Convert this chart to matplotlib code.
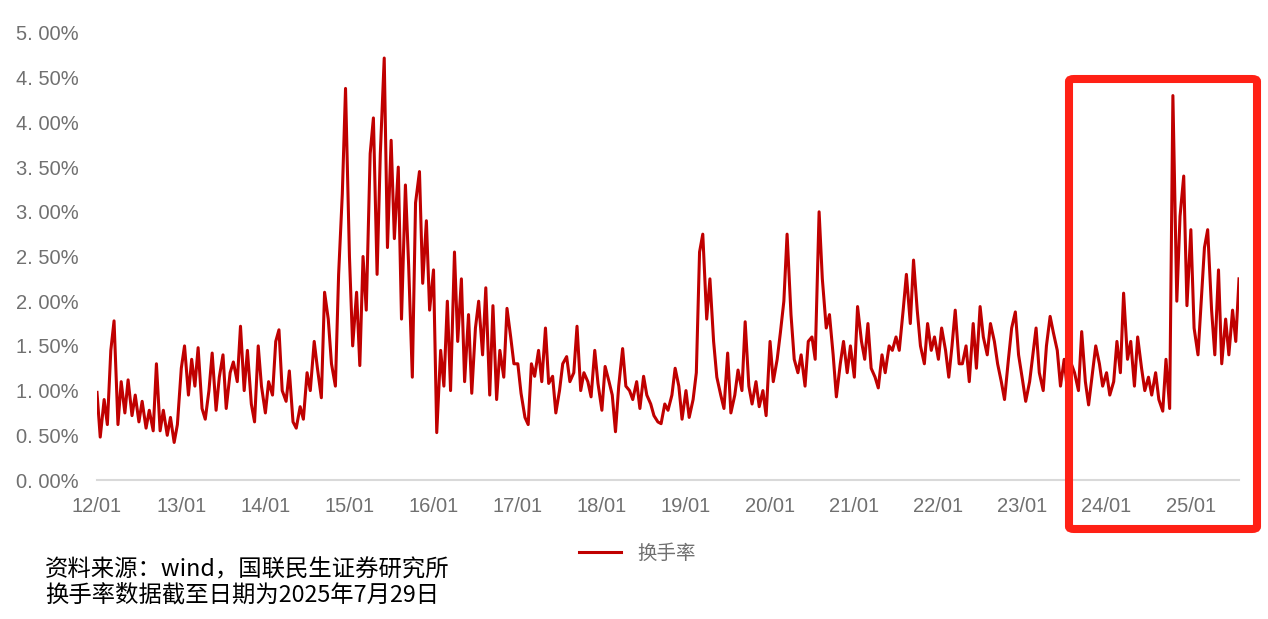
import matplotlib
matplotlib.use("Agg")
import matplotlib.pyplot as plt
import matplotlib.dates as mdates
from matplotlib.patches import FancyBboxPatch
import pandas as pd

plt.rcParams['font.family'] = ['Liberation Sans', 'Noto Sans CJK SC', 'DejaVu Sans']

# turnover rate (%), two points per month (1st / 15th)
y2012 = [0.98, 0.48, 0.90, 0.62, 1.45, 1.78, 0.62, 1.10, 0.75, 1.12, 0.72, 0.95,
         0.65, 0.88, 0.58, 0.78, 0.55, 1.30, 0.55, 0.78, 0.50, 0.70, 0.42, 0.62]
y2013 = [1.25, 1.50, 0.95, 1.35, 1.05, 1.48, 0.80, 0.68, 1.00, 1.42, 0.78, 1.15,
         1.40, 0.80, 1.20, 1.32, 1.10, 1.72, 1.00, 1.45, 0.85, 0.65, 1.50, 1.05]
y2014 = [0.75, 1.10, 0.95, 1.55, 1.68, 1.00, 0.88, 1.22, 0.65, 0.58, 0.82, 0.68,
         1.20, 1.00, 1.55, 1.25, 0.92, 2.10, 1.80, 1.30, 1.05, 2.30, 3.20, 4.38]
y2015 = [2.50, 1.50, 2.10, 1.28, 2.50, 1.90, 3.65, 4.05, 2.30, 3.65, 4.72, 2.60,
         3.80, 2.70, 3.50, 1.80, 3.30, 2.40, 1.15, 3.10, 3.45, 2.20, 2.90, 1.90]
y2016 = [2.35, 0.53, 1.45, 1.05, 2.00, 1.00, 2.55, 1.55, 2.25, 1.10, 1.85, 0.97,
         1.70, 2.00, 1.40, 2.15, 0.95, 1.95, 0.90, 1.45, 1.15, 1.92, 1.60, 1.30]
y2017 = [1.30, 0.97, 0.70, 0.62, 1.30, 1.16, 1.45, 1.10, 1.70, 1.08, 1.16, 0.75,
         1.00, 1.30, 1.38, 1.10, 1.20, 1.72, 1.00, 1.20, 1.10, 0.93, 1.45, 1.08]
y2018 = [0.78, 1.27, 1.10, 0.95, 0.54, 1.05, 1.47, 1.05, 1.00, 0.90, 1.10, 0.80,
         1.16, 0.95, 0.85, 0.72, 0.65, 0.63, 0.85, 0.78, 0.95, 1.25, 1.05, 0.68]
y2019 = [1.00, 0.70, 0.90, 1.20, 2.55, 2.75, 1.80, 2.25, 1.55, 1.15, 0.95, 0.80,
         1.42, 0.75, 0.95, 1.23, 1.00, 1.77, 1.05, 0.85, 1.10, 0.82, 1.00, 0.72]
y2020 = [1.55, 1.10, 1.35, 1.65, 2.00, 2.75, 1.85, 1.35, 1.20, 1.40, 1.05, 1.55,
         1.60, 1.35, 3.00, 2.25, 1.70, 1.85, 1.40, 0.93, 1.30, 1.55, 1.20, 1.50]
y2021 = [1.15, 1.94, 1.55, 1.35, 1.75, 1.25, 1.15, 1.03, 1.40, 1.20, 1.50, 1.45,
         1.60, 1.45, 1.90, 2.30, 1.75, 2.46, 1.90, 1.50, 1.30, 1.75, 1.45, 1.60]
y2022 = [1.35, 1.70, 1.45, 1.15, 1.50, 1.90, 1.30, 1.30, 1.50, 1.10, 1.75, 1.25,
         1.94, 1.60, 1.40, 1.75, 1.55, 1.30, 1.10, 0.90, 1.35, 1.70, 1.88, 1.40]
y2023 = [1.12, 0.88, 1.10, 1.40, 1.70, 1.20, 1.00, 1.50, 1.83, 1.65, 1.45, 1.05,
         1.35, 1.00, 1.30, 1.20, 1.00, 1.66, 1.10, 0.84, 1.20, 1.50, 1.30, 1.05]
y2024 = [1.20, 0.95, 1.10, 1.55, 1.20, 2.09, 1.35, 1.55, 1.05, 1.60, 1.25, 1.00,
         1.15, 0.95, 1.20, 0.90, 0.77, 1.35, 0.80, 4.30, 2.00, 2.95, 3.40, 1.95]
y2025 = [2.80, 1.70, 1.40, 2.00, 2.60, 2.80, 1.90, 1.40, 2.35, 1.30, 1.80, 1.40,
         1.90, 1.55, 2.25]

turnover = (y2012 + y2013 + y2014 + y2015 + y2016 + y2017 + y2018 + y2019 +
            y2020 + y2021 + y2022 + y2023 + y2024 + y2025)
dates = list(pd.date_range('2012-01-01', '2025-07-15', freq='SMS')) + [pd.Timestamp('2025-07-29')]

yticks = [0, 0.5, 1, 1.5, 2, 2.5, 3, 3.5, 4, 4.5, 5]
year_ticks = pd.date_range('2012-01-01', '2025-01-01', freq='YS')

W, H = 1268, 619
fig = plt.figure(figsize=(W / 100, H / 100), dpi=100)
ax = fig.add_axes([97 / W, (H - 480) / H, (1239 - 97) / W, 447 / H])

ax.plot(dates, turnover, color='#c00000', lw=2.2, label='换手率')

ax.set_ylim(0, 5)
ax.set_xlim(dates[0], dates[-1])
ax.set_yticks(yticks)
ax.set_yticklabels([('%.2f%%' % v).replace('.', '. ') for v in yticks])
ax.set_xticks(year_ticks)
ax.xaxis.set_major_formatter(mdates.DateFormatter('%y/%m'))

for s in ['top', 'right', 'left']:
    ax.spines[s].set_visible(False)
ax.spines['bottom'].set_color('#d9d9d9')
ax.spines['bottom'].set_linewidth(1.5)
ax.tick_params(length=0, labelsize=14.5, labelcolor='#707070')
ax.tick_params(axis='y', pad=13)
ax.tick_params(axis='x', pad=12)

leg = ax.legend(loc='center', bbox_to_anchor=(637 / W, 1 - 553 / H),
                bbox_transform=fig.transFigure, frameon=False,
                handlelength=2.2, handletextpad=0.8,
                prop={'family': ['Noto Sans CJK SC', 'DejaVu Sans'], 'size': 14})
for t in leg.get_texts():
    t.set_color('#707070')

# highlight box on the latest period
box = FancyBboxPatch((1069 / W, (H - 529) / H), (1257 - 1069) / W, (529 - 79) / H,
                     boxstyle='round,pad=0,rounding_size=0.004',
                     transform=fig.transFigure, fill=False,
                     ec='#ff2015', lw=5.8, zorder=5)
fig.add_artist(box)

cjk = ['Noto Sans CJK SC', 'DejaVu Sans']
fig.text(45 / W, 1 - 570 / H, '资料来源：wind，国联民生证券研究所', family=cjk,
         fontsize=16.8, color='black', va='center', ha='left')
fig.text(45 / W, 1 - 595 / H, '换手率数据截至日期为2025年7月29日', family=cjk,
         fontsize=16.8, color='black', va='center', ha='left')

fig.savefig('out.png', dpi=100)
